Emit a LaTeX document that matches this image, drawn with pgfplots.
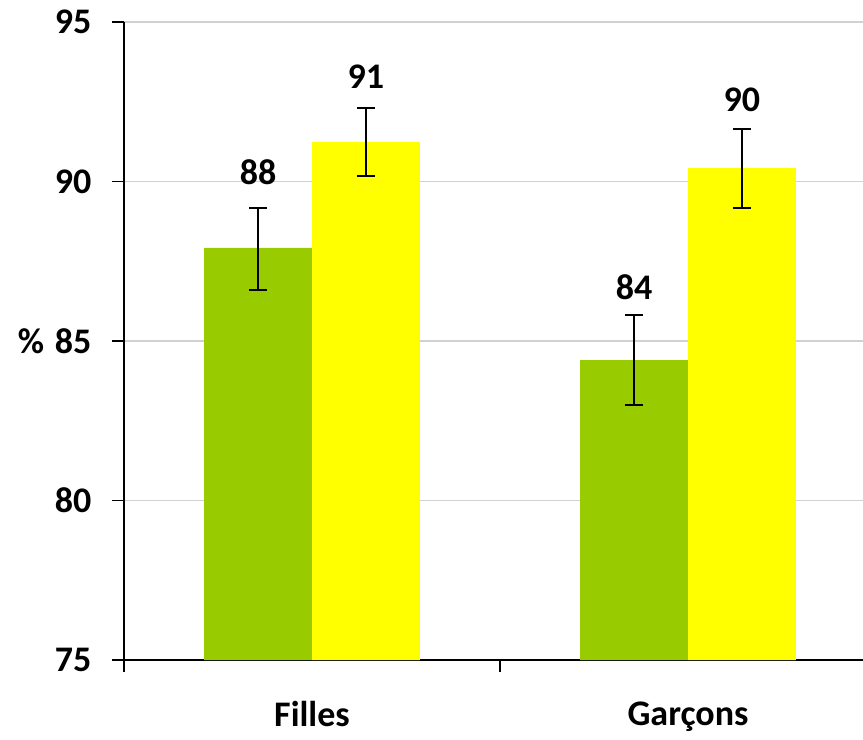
\documentclass[border=0pt]{standalone}
\usepackage{fontspec}
\setmainfont{Carlito}
\usepackage{pgfplots}
\pgfplotsset{compat=1.18}
\definecolor{cgreen}{HTML}{99CC00}
\definecolor{cyellow}{HTML}{FFFF00}
\newcommand{\bigb}{\fontsize{27}{32}\selectfont\bfseries}
\begin{document}
\begin{tikzpicture}
\begin{axis}[
  scale only axis=true,
  width=554.25pt, height=478.5pt,
  xmin=-0.5, xmax=1.4654,
  ymin=75, ymax=95,
  ytick={75,80,85,90,95},
  ymajorgrids=true,
  grid style={draw=black!18, line width=0.8pt},
  axis x line*=bottom, axis y line*=left,
  axis line style={black, line width=1.1pt},
  tick align=outside,
  major tick length=9pt,
  tick style={black, line width=0.9pt},
  xtick={-0.5,0.5},
  xticklabels={},
  extra x ticks={0,1},
  extra x tick labels={Filles,Garçons},
  extra x tick style={tick style={draw=none}, xticklabel style={yshift=-21pt, inner sep=1pt}},
  ticklabel style={font=\bigb},
  label style={font=\bigb},
  /pgf/number format/assume math mode=true,
  yticklabel style={xshift=-12pt},
  ylabel={\%},
  ylabel style={rotate=-90, at={(axis description cs:0,0.5)}, anchor=center, xshift=-69.75pt},
  clip=false,
  bar width=0.287,
]
\addplot[ybar, bar shift=0pt, fill=cgreen, draw=none,
  error bars/.cd, y dir=both, y explicit,
  error bar style={black, line width=1.2pt},
  error mark options={black, rotate=90, mark size=6.5pt, line width=1.2pt}]
  table[x=x, y=y, y error plus=ep, y error minus=em] {
  x y ep em
  -0.1435 87.92 1.25 1.32
  0.8565 84.40 1.42 1.40
};
\addplot[ybar, bar shift=0pt, fill=cyellow, draw=none,
  error bars/.cd, y dir=both, y explicit,
  error bar style={black, line width=1.2pt},
  error mark options={black, rotate=90, mark size=6.5pt, line width=1.2pt}]
  table[x=x, y=y, y error plus=ep, y error minus=em] {
  x y ep em
  0.1435 91.24 1.06 1.07
  1.1435 90.42 1.23 1.25
};
\addplot[draw=none, mark=none, nodes near coords, point meta=explicit symbolic,
  nodes near coords style={anchor=center, font=\bigb}]
  table[x=x, y=y, meta=l] {
  x y l
  -0.1435 90.30 88
  0.1435 93.28 91
  0.8565 86.69 84
  1.1435 92.55 90
};
\end{axis}
\pgfresetboundingbox
\path[use as bounding box] (-93pt,-59.25pt) rectangle (554.25pt,495pt);
\end{tikzpicture}
\end{document}
